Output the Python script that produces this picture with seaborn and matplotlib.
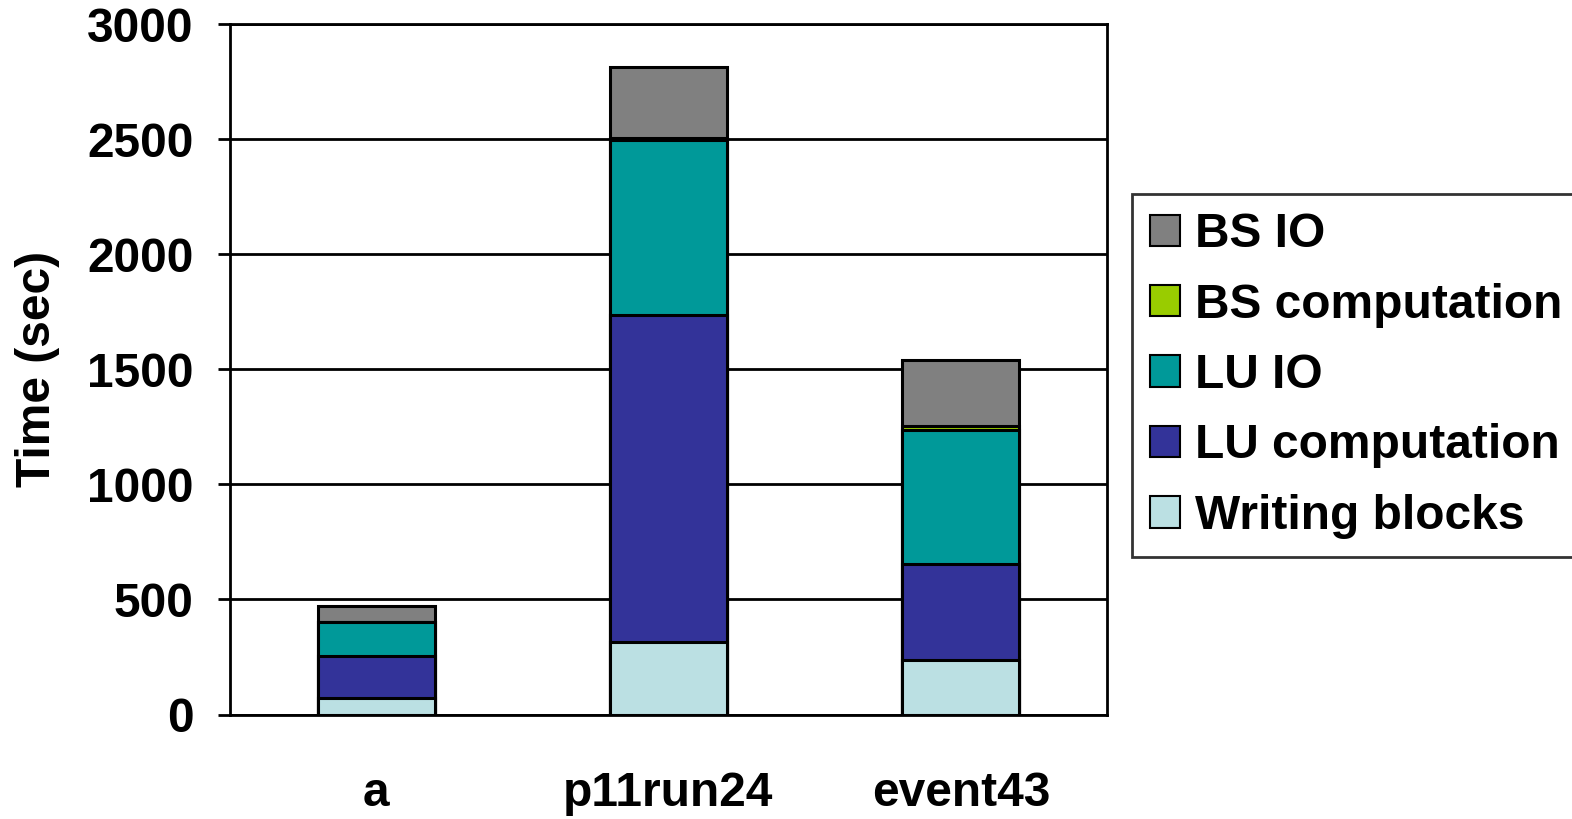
import numpy as np
import pandas as pd
import matplotlib
matplotlib.use("Agg")
import matplotlib.pyplot as plt
import seaborn as sns

categories = ["a", "p11run24", "event43"]
series_names = ["Writing blocks", "LU computation", "LU IO", "BS computation", "BS IO"]
writing_blocks = [72, 317, 238]
lu_computation = [182, 1417, 416]
lu_io = [148, 763, 582]
bs_computation = [0, 8, 16]
bs_io = [71, 307, 289]
colors = ["#BBE0E3", "#333399", "#009999", "#99CC00", "#808080"]
y_ticks = [0, 500, 1000, 1500, 2000, 2500, 3000]

sns.set_theme(style="white")
plt.rcParams["font.family"] = ["Liberation Sans", "DejaVu Sans"]
plt.rcParams["font.weight"] = "bold"
plt.rcParams["text.color"] = "black"
plt.rcParams["axes.labelcolor"] = "black"
plt.rcParams["xtick.color"] = "black"
plt.rcParams["ytick.color"] = "black"

FS = 34.5

values = np.array([writing_blocks, lu_computation, lu_io, bs_computation, bs_io], dtype=float)
cum = np.cumsum(values, axis=0)

fig = plt.figure(figsize=(15.72, 8.19), dpi=100)
ax = fig.add_axes([230 / 1572, 1 - 714.5 / 819, (1107 - 230) / 1572, (714.5 - 24) / 819])

for i in reversed(range(len(series_names))):
    df = pd.DataFrame({"cat": categories, "val": cum[i]})
    sns.barplot(data=df, x="cat", y="val", order=categories, color=colors[i],
                width=0.4, edgecolor="black", linewidth=2.2, saturation=1,
                label=series_names[i], ax=ax)

ax.set_ylim(0, 3000)
ax.set_xlim(-0.5, 2.5)
ax.set_yticks(y_ticks)
ax.set_yticklabels([str(t) for t in y_ticks], fontsize=FS, fontweight="bold", color="black")
ax.yaxis.grid(True, color="black", linewidth=2.0)
ax.set_axisbelow(True)
ax.set_xticks(range(len(categories)))
ax.set_xticklabels(categories, fontsize=FS, fontweight="bold", color="black")
ax.set_xticks([-0.5, 0.5, 1.5, 2.5], minor=True)
ax.tick_params(axis="x", which="major", length=0, pad=41)
ax.tick_params(axis="x", which="minor", length=11, width=2.0, color="black", direction="out")
ax.tick_params(axis="y", which="major", length=9, width=2.0, color="black", direction="out", pad=17, left=True)
for s in ax.spines.values():
    s.set_color("black")
    s.set_linewidth(2.0)
    s.set_visible(True)
ax.set_xlabel("")
ax.set_ylabel("Time (sec)", fontsize=FS, fontweight="bold", color="black")
ax.yaxis.set_label_coords(-0.194, 0.5)

leg = ax.legend(loc="upper left", bbox_to_anchor=(1132 / 1572, 1 - 194 / 819),
                bbox_transform=fig.transFigure, borderaxespad=0,
                prop={"weight": "bold", "size": FS}, frameon=True, fancybox=False,
                handlelength=0.63, handleheight=0.63, handletextpad=0.3,
                labelspacing=0.53, borderpad=0.38)
leg.get_frame().set_edgecolor("black")
leg.get_frame().set_linewidth(2.0)
for t in leg.get_texts():
    t.set_color("black")
for h in leg.legend_handles:
    h.set_linewidth(1.5)

fig.savefig("out.png", dpi=100)
